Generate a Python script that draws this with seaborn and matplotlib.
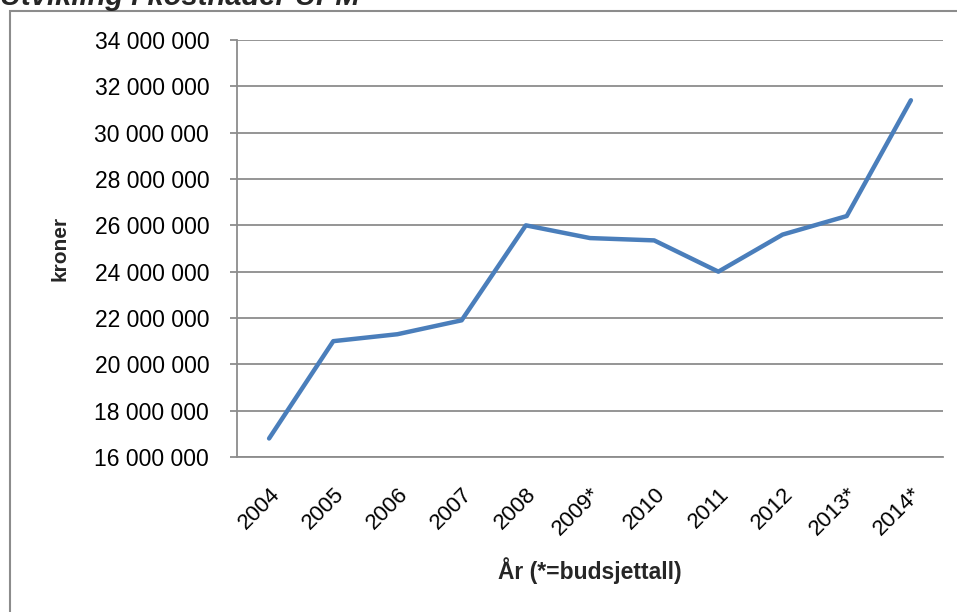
import matplotlib
matplotlib.use("Agg")
import matplotlib.pyplot as plt
import seaborn as sns
import pandas as pd
from matplotlib.patches import Rectangle
from matplotlib.ticker import FuncFormatter

years = ["2004", "2005", "2006", "2007", "2008", "2009*", "2010", "2011", "2012", "2013*", "2014*"]
kroner = [16_800_000, 21_000_000, 21_300_000, 21_900_000, 26_000_000, 25_450_000,
          25_350_000, 24_000_000, 25_600_000, 26_400_000, 31_400_000]
title = "Utvikling i kostnader UPM"
ylabel = "kroner"
xlabel = "År (*=budsjettall)"

sns.set_theme(style="white")
plt.rcParams['font.family'] = ['Liberation Sans', 'DejaVu Sans']

df = pd.DataFrame({"year": years, "kroner": kroner})

fig = plt.figure(figsize=(9.57, 6.12), dpi=100)
W, H = 957, 612
ax = fig.add_axes([237 / W, 1 - 457 / H, (943 - 237) / W, (457 - 40) / H])

sns.lineplot(data=df, x="year", y="kroner", ax=ax, color="#4A7EBB", linewidth=3.2, sort=False)

ax.set_ylim(16_000_000, 34_000_000)
ax.set_yticks(range(16_000_000, 34_000_001, 2_000_000))
ax.yaxis.set_major_formatter(FuncFormatter(lambda v, p: f"{int(v):,}".replace(",", " ")))
ax.set_xlim(-0.5, len(years) - 0.5)
ax.set_xticks(range(len(years)))
ax.set_xticklabels(years, rotation=45, ha="right", va="top", rotation_mode="anchor")

ax.grid(axis="y", color="#8c8c8c", linewidth=1.3)
ax.grid(axis="x", visible=False)
ax.set_axisbelow(True)
for s in ["top", "right"]:
    ax.spines[s].set_visible(False)
for s in ["left", "bottom"]:
    ax.spines[s].set_color("#8c8c8c")
    ax.spines[s].set_linewidth(1.3)

ax.tick_params(axis="y", which="major", length=5, width=1.3, color="#8c8c8c",
               labelsize=16.5, pad=15, left=True, labelcolor="black")
ax.tick_params(axis="x", which="major", length=0, labelsize=16, pad=19, labelcolor="black")

ax.set_ylabel(ylabel, fontsize=15, fontweight="bold")
ax.set_xlabel(xlabel, fontsize=16.5, fontweight="bold")
ax.yaxis.set_label_coords(-(237 - 60) / (943 - 237), 0.5)
ax.xaxis.set_label_coords((590 - 237) / (943 - 237), -(571 - 457) / (457 - 40))
ax.xaxis.label.set_va("center")
ax.yaxis.label.set_va("center")

fig.patches.append(Rectangle((10 / W, -0.1), 1.1, 1.1 - 11 / H, transform=fig.transFigure,
                             fill=False, edgecolor="#8c8c8c", linewidth=1.5))
fig.text(0.0, 1 - 5 / H, title, fontsize=21, fontweight="bold", fontstyle="italic",
         ha="left", va="baseline")

fig.savefig("out.png", dpi=100)
